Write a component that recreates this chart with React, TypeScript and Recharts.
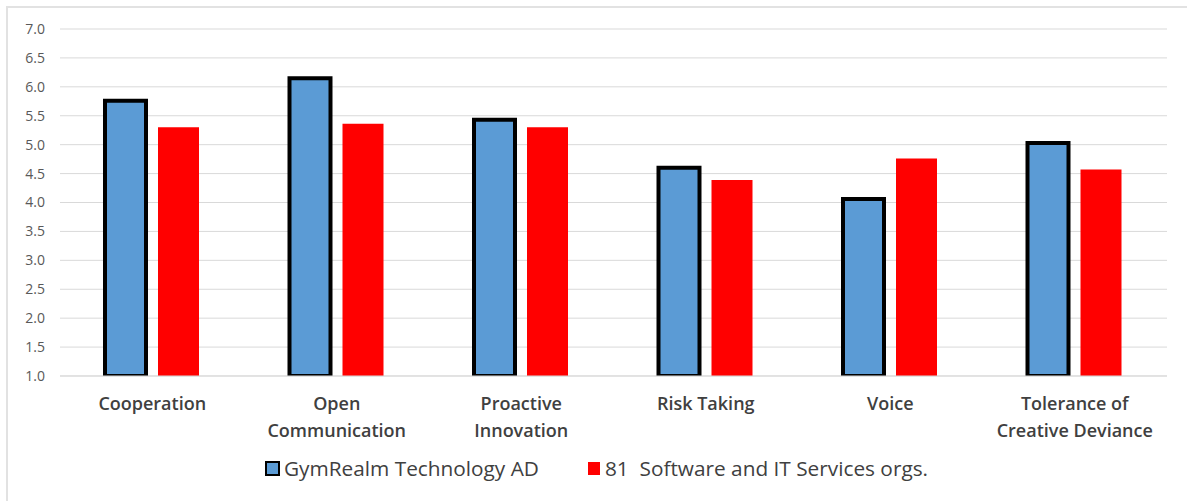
import React from "react";
import { BarChart, Bar, XAxis, YAxis, CartesianGrid, Legend } from "recharts";

const categories = [
  "Cooperation",
  "Open\nCommunication",
  "Proactive\nInnovation",
  "Risk Taking",
  "Voice",
  "Tolerance of\nCreative Deviance",
];
const gymRealm = [5.76, 6.15, 5.43, 4.6, 4.06, 5.03];
const industry = [5.3, 5.36, 5.3, 4.39, 4.76, 4.57];
const yTicks = [1, 1.5, 2, 2.5, 3, 3.5, 4, 4.5, 5, 5.5, 6, 6.5, 7];
const seriesNames = ["GymRealm Technology AD", "81  Software and IT Services orgs."];

const data = categories.map((c, i) => ({ name: c, a: gymRealm[i], b: industry[i] }));

const FONT = "'Open Sans', Lato, sans-serif";

const XTick = (props: any) => {
  const { x, y, payload } = props;
  const lines = String(payload.value).split("\n");
  return (
    <text x={x} y={y + 26} textAnchor="middle" fill="#404040" fontSize={18} fontWeight={600} fontFamily={FONT}>
      {lines.map((l: string, i: number) => (
        <tspan key={i} x={x} dy={i === 0 ? 0 : 27}>
          {l}
        </tspan>
      ))}
    </text>
  );
};

const LegendContent = () => (
  <div style={{ display: "flex", justifyContent: "center", alignItems: "center", fontFamily: FONT, fontSize: 20.8, color: "#404040", whiteSpace: "pre", paddingLeft: 6 }}>
    <span style={{ display: "inline-block", width: 11, height: 11, background: "#5B9BD5", border: "2.5px solid #000", marginRight: 4 }} />
    <span style={{ marginRight: 49 }}>{seriesNames[0]}</span>
    <span style={{ display: "inline-block", width: 12, height: 13, background: "#FF0000", marginRight: 5 }} />
    <span>{seriesNames[1]}</span>
  </div>
);

export default function App() {
  return (
    <div style={{ position: "absolute", left: 0, top: 0, width: 1187, height: 501, background: "#fff" }}>
      <div style={{ position: "absolute", left: 6, top: 6, width: 1181, height: 495, borderTop: "2px solid #e2e2e2", borderLeft: "2px solid #e2e2e2" }} />
      <div style={{ position: "absolute", left: 0, top: 0 }}>
        <BarChart width={1187} height={501} data={data} margin={{ top: 29, right: 20, bottom: 55, left: 0 }} barSize={41} barGap={12}>
          <CartesianGrid vertical={false} stroke="#d9d9d9" strokeWidth={1} />
          <XAxis dataKey="name" height={70} tick={<XTick />} tickLine={false} axisLine={{ stroke: "#d9d9d9" }} interval={0} />
          <YAxis
            width={60}
            domain={[1, 7]}
            ticks={yTicks}
            tickFormatter={(v: number) => v.toFixed(1)}
            tickLine={false}
            axisLine={false}
            tickSize={0}
            tickMargin={15}
            tick={{ fill: "#595959", fontSize: 14, fontFamily: FONT }}
            allowDataOverflow
          />
          <Legend verticalAlign="middle" wrapperStyle={{ top: 454, left: 0, width: 1187 }} content={<LegendContent />} />
          <Bar dataKey="a" name={seriesNames[0]} fill="#5B9BD5" stroke="#000" strokeWidth={4} isAnimationActive={false} />
          <Bar dataKey="b" name={seriesNames[1]} fill="#FF0000" isAnimationActive={false} />
        </BarChart>
      </div>
    </div>
  );
}
